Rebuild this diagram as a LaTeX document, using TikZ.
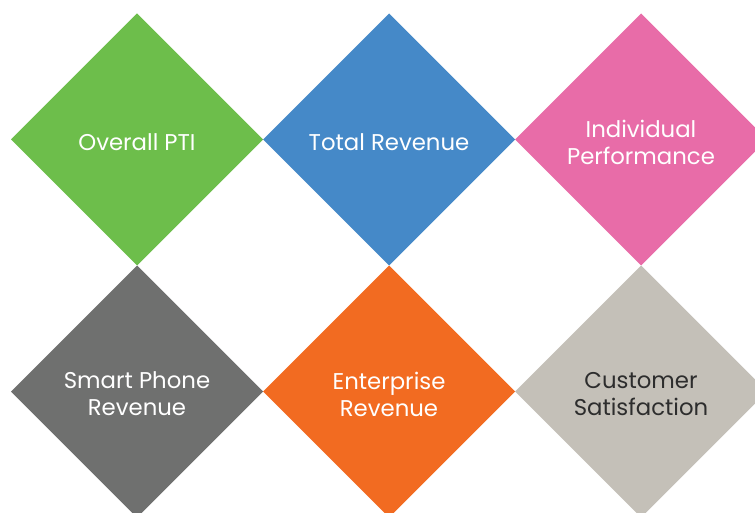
\documentclass[tikz,border=0pt]{standalone}
\usepackage{fontspec}
\setmainfont{Poppins}
\usepackage{xcolor}
\definecolor{PTIGreen}{RGB}{109,190,75}
\definecolor{RevBlue}{RGB}{69,137,200}
\definecolor{PerfPink}{RGB}{232,108,168}
\definecolor{PhoneGray}{RGB}{111,112,111}
\definecolor{EntOrange}{RGB}{242,107,33}
\definecolor{SatBeige}{RGB}{196,192,184}
\definecolor{SatText}{RGB}{45,45,45}
\usepackage{tikz}
\usetikzlibrary{shapes.geometric}

\begin{document}
\begin{tikzpicture}[x=1pt, y=-1pt,
    tile/.style={diamond, aspect=1, minimum width=252pt, minimum height=252pt,
                 inner sep=0pt, outer sep=0pt},
    tiletext/.style={align=center, yshift=-2.5pt,
                 font=\fontsize{22.8}{27}\selectfont}]
    % --- Marco de la figura ---
    \useasboundingbox (0,0) rectangle (755,513);
    \clip (0,0) rectangle (755,513);

    % --- Fila superior ---
    \foreach \nm/\cx/\col/\tc/\txt in {pti/137/PTIGreen/white/{Overall PTI},
                                       revenue/389/RevBlue/white/{Total Revenue},
                                       perf/641/PerfPink/white/{Individual\\Performance}} {
      \node[tile, fill=\col] (\nm) at (\cx,139.5) {};
      \node[tiletext, text=\tc] (\nm-txt) at (\nm.center) {\txt};
    }

    % --- Fila inferior ---
    \foreach \nm/\cx/\col/\tc/\txt in {phone/137/PhoneGray/white/{Smart Phone\\Revenue},
                                       enterprise/389/EntOrange/white/{Enterprise\\Revenue},
                                       satisf/641/SatBeige/SatText/{Customer\\Satisfaction}} {
      \node[tile, fill=\col] (\nm) at (\cx,391.5) {};
      \node[tiletext, text=\tc] (\nm-txt) at (\nm.center) {\txt};
    }

  \end{tikzpicture}
\end{document}
